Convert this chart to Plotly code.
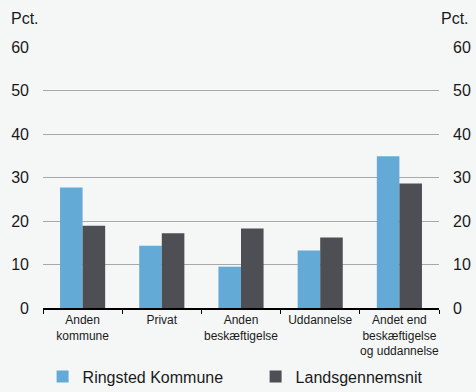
import plotly.graph_objects as go

categories = ["Anden<br>kommune", "Privat", "Anden<br>beskæftigelse", "Uddannelse",
              "Andet end<br>beskæftigelse<br>og uddannelse"]
ringsted = [27.7, 14.3, 9.5, 13.2, 34.9]
lands = [18.9, 17.2, 18.3, 16.2, 28.6]
ytick_vals = [0, 10, 20, 30, 40, 50, 60]

BG = "#f5f7f7"
FONT = "Liberation Sans, Arial, sans-serif"

fig = go.Figure()
fig.add_trace(go.Bar(x=categories, y=ringsted, name="Ringsted Kommune",
                     marker=dict(color="#63aad7", line=dict(width=0))))
fig.add_trace(go.Bar(x=categories, y=lands, name="Landsgennemsnit",
                     marker=dict(color="#4e4f55", line=dict(width=0))))
# invisible trace for the right axis
fig.add_trace(go.Scatter(x=categories, y=[None]*5, yaxis="y2", showlegend=False,
                         hoverinfo="skip"))

fig.update_layout(
    width=476, height=392,
    paper_bgcolor=BG, plot_bgcolor=BG,
    margin=dict(l=43, r=37, t=47, b=84, autoexpand=False),
    barmode="group", bargap=0.43, bargroupgap=0,
    font=dict(family=FONT, color="#1a1a1a"),
    xaxis=dict(showgrid=False, showline=True, linecolor="#000000", linewidth=1.5,
               ticks="outside", tickson="boundaries", ticklen=4, tickcolor="#000000",
               tickangle=0, automargin=False,
               tickfont=dict(size=12, color="#1a1a1a"), zeroline=False),
    yaxis=dict(range=[0, 60], tickvals=ytick_vals, showgrid=True, gridcolor="#a8a8a8",
               gridwidth=1, zeroline=False, showline=False, ticks="", automargin=False,
               tickfont=dict(size=16, color="#1a1a1a"), ticklabelstandoff=13),
    yaxis2=dict(range=[0, 60], tickvals=ytick_vals, overlaying="y", side="right",
                showgrid=False, zeroline=False, showline=False, ticks="", automargin=False,
                tickfont=dict(size=16, color="#1a1a1a"), ticklabelstandoff=13),
    legend=dict(orientation="h", x=-0.001, xanchor="left", y=-0.198, yanchor="top",
                font=dict(size=16, color="#1a1a1a"), entrywidth=168, entrywidthmode="pixels",
                itemwidth=30, bgcolor="rgba(0,0,0,0)", traceorder="normal"),
    annotations=[
        dict(text="Pct.", xref="paper", yref="paper", x=-0.086, y=1.111, xanchor="left",
             yanchor="middle", showarrow=False, font=dict(size=16, color="#1a1a1a")),
        dict(text="Pct.", xref="paper", yref="paper", x=1.0, y=1.111, xanchor="left",
             yanchor="middle", showarrow=False, font=dict(size=16, color="#1a1a1a")),
    ],
)

fig.write_html("out.html", config={"displayModeBar": False},
               post_script="document.body.style.margin='0';document.body.style.background='%s';" % BG)
